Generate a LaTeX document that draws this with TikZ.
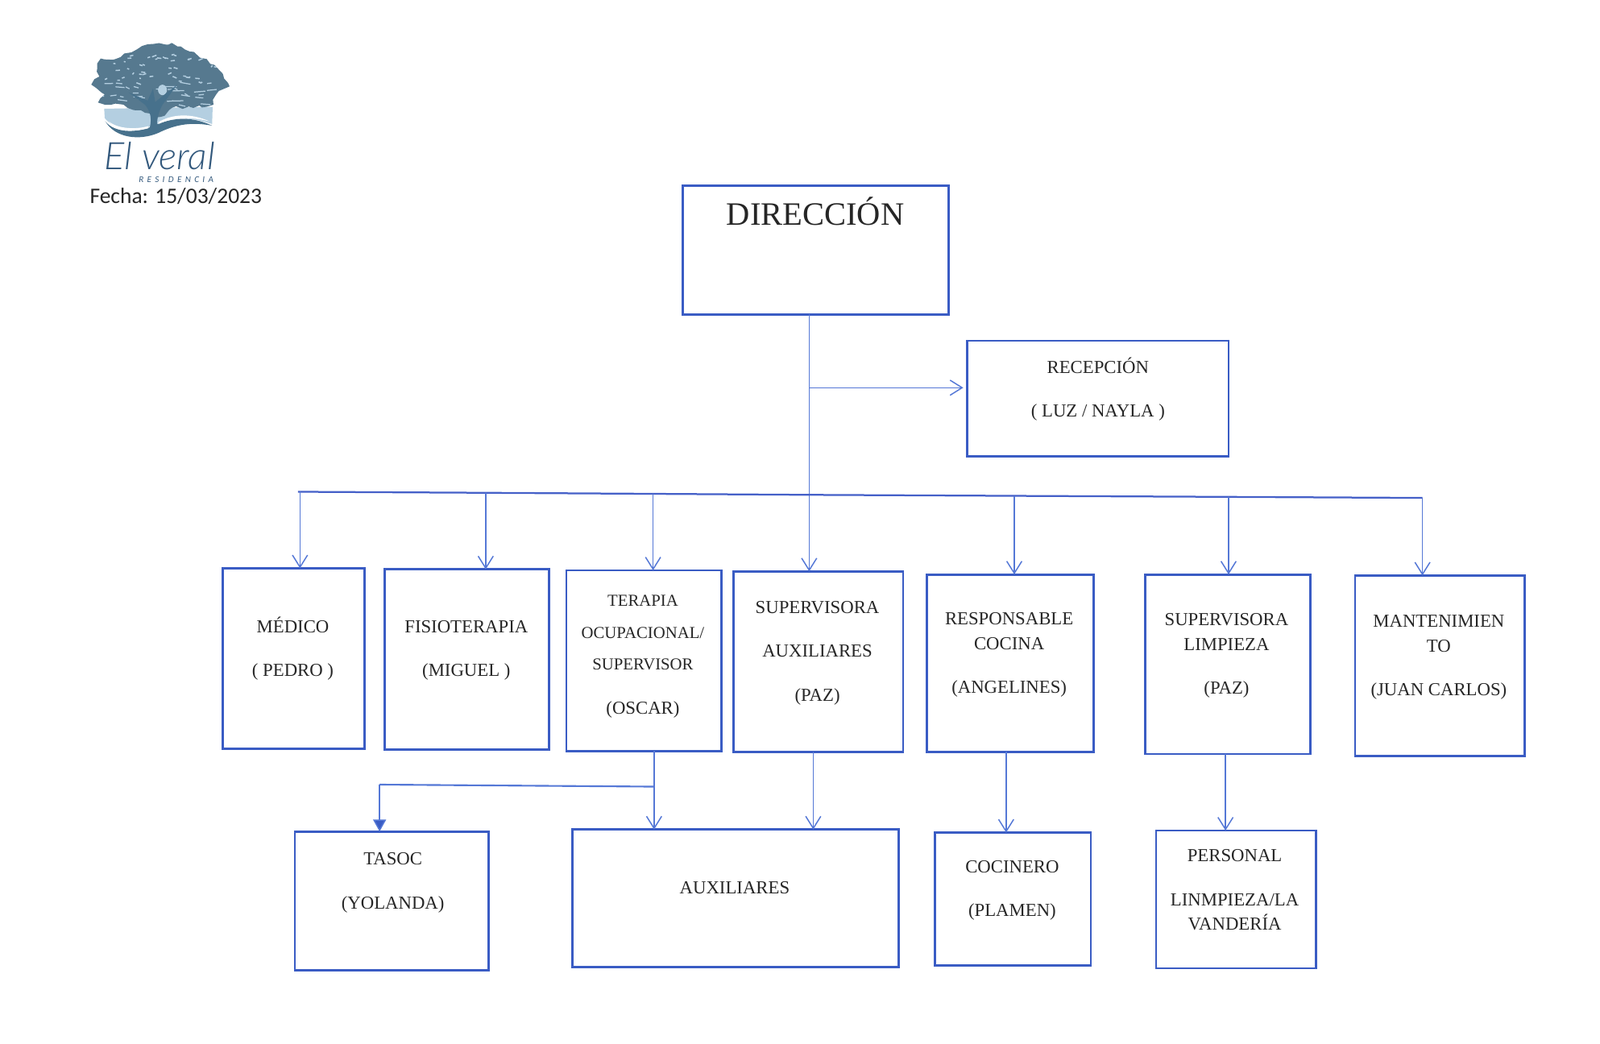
\documentclass[tikz,border=0pt]{standalone}
\usepackage{fontspec}
\setmainfont{Liberation Serif}
\newfontfamily\logofont{Carlito}
\newfontfamily\logolight{Lato Light}
\usetikzlibrary{arrows.meta,decorations.pathmorphing,calc}
\definecolor{boxblue}{HTML}{3A5CC4}
\definecolor{linkblue}{HTML}{5578D6}
\definecolor{busblue}{HTML}{4560C8}
\definecolor{ink}{HTML}{262626}
\definecolor{treedark}{HTML}{56798F}
\definecolor{treedeep}{HTML}{47718C}
\definecolor{treelight}{HTML}{B4CFE1}
\definecolor{logotext}{HTML}{32587C}
\tikzset{
  bx/.style={draw=boxblue,line width=1.15pt,rectangle,inner sep=0pt,outer sep=0pt},
  lab/.style={text=ink,align=center,inner sep=0pt,font=\fontsize{9.1}{12.2}\selectfont},
  labsmall/.style={lab,font=\fontsize{8.3}{15.8}\selectfont},
  arr/.style={draw=linkblue,line width=.6pt,-{Straight Barb[length=6pt,width=7.5pt,line width=.6pt]}},
  farr/.style={draw=linkblue,line width=.6pt,-{Triangle[length=6pt,width=6.5pt,fill=boxblue]}},
  trunk/.style={draw=linkblue,line width=.6pt},
  bus/.style={draw=busblue,line width=.9pt},
}
% #1 name, #2..#5 left top right bottom
\newcommand{\orgbox}[5]{\node[bx,minimum width={(#4-#2)*.50663pt},minimum height={(#5-#3)*.50663pt}] (#1) at ({(#2+#4)/2},{(#3+#5)/2}) {};}
\begin{document}
\begin{tikzpicture}[x=.50663pt,y=-.50663pt]
\useasboundingbox (0,0) rectangle (1568,1023.2);
% boxes
\orgbox{dir}{669}{182}{930}{308}
\orgbox{rec}{948}{334}{1204}{447}
\orgbox{med}{218}{557}{357}{734}
\orgbox{fis}{377}{558}{538}{735}
\orgbox{ter}{555}{559}{707}{736}
\orgbox{sup}{719}{560}{885}{737}
\orgbox{res}{908}{563}{1072}{737}
\orgbox{lim}{1122}{563}{1284}{739}
\orgbox{man}{1328}{564}{1494}{741}
\orgbox{tas}{289}{815}{479}{951}
\orgbox{aux}{561}{813}{881}{948}
\orgbox{coc}{916}{816}{1069}{946}
\orgbox{per}{1133}{814}{1290}{949}
% texts
\node[lab,font=\fontsize{16.2}{18}\selectfont] (tdir) at (799,207.5) {DIRECCIÓN};
\node[lab,anchor=north] (trec) at (1076,350) {RECEPCIÓN\\[9.5pt]( LUZ / NAYLA )};
\node[lab,anchor=north] (tmed) at (287,604) {MÉDICO\\[9.5pt]( PEDRO )};
\node[lab,anchor=north] (tfis) at (457,608) {FISIOTERAPIA\\[9.5pt](MIGUEL )};
\node[labsmall,anchor=north] (tter) at (630,583) {TERAPIA\\OCUPACIONAL/\\SUPERVISOR\\[6pt]{\fontsize{9.1}{12}\selectfont (OSCAR)}};
\node[lab,anchor=north] (tsup) at (801,589) {SUPERVISORA\\[9.5pt]AUXILIARES\\[9.5pt](PAZ)};
\node[lab,anchor=north] (tres) at (989,600) {RESPONSABLE\\COCINA\\[9.5pt](ANGELINES)};
\node[lab,anchor=north] (tlim) at (1202,601) {SUPERVISORA\\LIMPIEZA\\[9.5pt](PAZ)};
\node[lab,anchor=north] (tman) at (1410,602.5) {MANTENIMIEN\\TO\\[9.5pt](JUAN CARLOS)};
\node[lab,anchor=north] (ttas) at (385,835.5) {TASOC\\[9.5pt](YOLANDA)};
\node[lab] (taux) at (720,870) {AUXILIARES};
\node[lab,anchor=north] (tcoc) at (992,843) {COCINERO\\[9.5pt](PLAMEN)};
\node[lab,anchor=north] (tper) at (1210,832.5) {PERSONAL\\[9.5pt]LINMPIEZA/LA\\VANDERÍA};
% connector junctions
\coordinate (busL) at (292,482);
\coordinate (busR) at (1394,488);
\coordinate (d1) at (294,482);
\coordinate (d2) at (476,483);
\coordinate (d3) at (640,484);
\coordinate (d4) at (793,485);
\coordinate (d5) at (994,486);
\coordinate (d6) at (1204,487);
\coordinate (jrec) at (793,380);
\coordinate (jter) at (641,771);
\coordinate (jtas) at (372,769);
\coordinate (xsup) at (797,737);
\coordinate (xres) at (986,740);
\coordinate (xlim) at (1201,740);
\coordinate (endrec) at (944,380);
% connectors
\draw[arr] (dir.south -| d4) -- (sup.north -| d4);
\draw[arr] (jrec) -- (endrec);
\draw[bus] (busL) -- (d2) -- (d3) -- (d4) -- (d5) -- (d6) -- (busR);
\draw[arr] (d1) -- (med.north -| d1);
\draw[arr] (d2) -- (fis.north -| d2);
\draw[arr] (d3) -- (ter.north -| d3);
\draw[arr] (d5) -- (res.north -| d5);
\draw[arr] (d6) -- (lim.north -| d6);
\draw[arr] (busR) -- (man.north -| busR);
\draw[arr] (ter.south -| jter) -- (aux.north -| jter);
\draw[trunk,line width=.85pt] (jter) -- (jtas);
\draw[farr] (jtas) -- (tas.north -| jtas);
\draw[arr] (sup.south -| xsup) -- (aux.north -| xsup);
\draw[arr] (res.south -| xres) -- (coc.north -| xres);
\draw[arr] (lim.south -| xlim) -- (per.north -| xlim);
% logo
\begin{scope}[shift={(63.16,23.69)},x=.1333pt,y=-.1333pt]
  \fill[treelight] (148,315) -- (552,308) -- (550,372) .. controls (470,345) and (400,345) .. (340,375) .. controls (270,400) and (185,395) .. (150,350) -- cycle;
  \fill[treedeep] (152,362) .. controls (190,410) and (280,405) .. (340,375) .. controls (410,345) and (480,345) .. (550,378) .. controls (480,365) and (420,370) .. (350,405) .. controls (280,435) and (190,425) .. (152,362) -- cycle;
  \fill[white] (165,362) .. controls (200,392) and (270,392) .. (312,380) -- (312,388) .. controls (260,402) and (195,400) .. (165,362) -- cycle;
  \fill[white] (350,365) .. controls (400,335) and (470,330) .. (540,362) .. controls (470,345) and (410,345) .. (350,372) -- cycle;
  \begin{scope}
    \path[clip,decorate,decoration={random steps,segment length=2.6pt,amplitude=.9pt}]
      (100,225) -- (130,195) -- (122,165) -- (135,128) -- (190,130) -- (250,105) -- (310,75) -- (400,70) -- (450,95) -- (530,130) -- (590,185) -- (615,232) -- (565,262) -- (555,300) -- (480,312) -- (400,312) -- (360,345) -- (300,330) -- (235,312) -- (190,296) -- (125,292) -- (150,262) -- cycle;
    \fill[treedark] (80,50) rectangle (640,360);
    \pgfmathsetseed{11}
    \foreach \i in {1,...,30}{
      \pgfmathsetmacro\sx{rnd*480+110}
      \pgfmathsetmacro\sy{rnd*90+215}
      \pgfmathsetmacro\sl{rnd*35+12}
      \pgfmathsetmacro\sd{rnd*14-4}
      \draw[treelight,line width=.5pt] (\sx,\sy) -- ++(\sl,\sd);
    }
    \foreach \i in {1,...,45}{
      \pgfmathsetmacro\sx{rnd*420+150}
      \pgfmathsetmacro\sy{rnd*110+110}
      \pgfmathsetmacro\sl{rnd*12+5}
      \pgfmathsetmacro\sd{rnd*14-7}
      \draw[treelight,line width=.6pt] (\sx,\sy) -- ++(\sl,\sd);
    }
    \fill[treelight] (365,245) ellipse (2.2pt and 2.6pt);
  \end{scope}
  \fill[treedeep] (316,392) .. controls (325,360) and (325,330) .. (300,300) -- (240,255) -- (310,285) -- (330,240) -- (338,290) -- (420,225) -- (365,300) .. controls (350,330) and (345,350) .. (345,376) -- cycle;
  \node[inner sep=0pt,text=logotext,font=\logolight\itshape\fontsize{18.8}{20}\selectfont] (elveral) at (355,490) {El veral};
  \node[inner sep=0pt,text=logotext,font=\logofont\itshape\fontsize{4.4}{5}\selectfont] (resid) at (416,580) {\addfontfeature{LetterSpace=40}RESIDENCIA};
  \node[inner sep=0pt,text=ink,font=\logofont\fontsize{11}{13}\selectfont] (fecha) at (415,642) {Fecha: 15/03/2023};
\end{scope}
\end{tikzpicture}
\end{document}
